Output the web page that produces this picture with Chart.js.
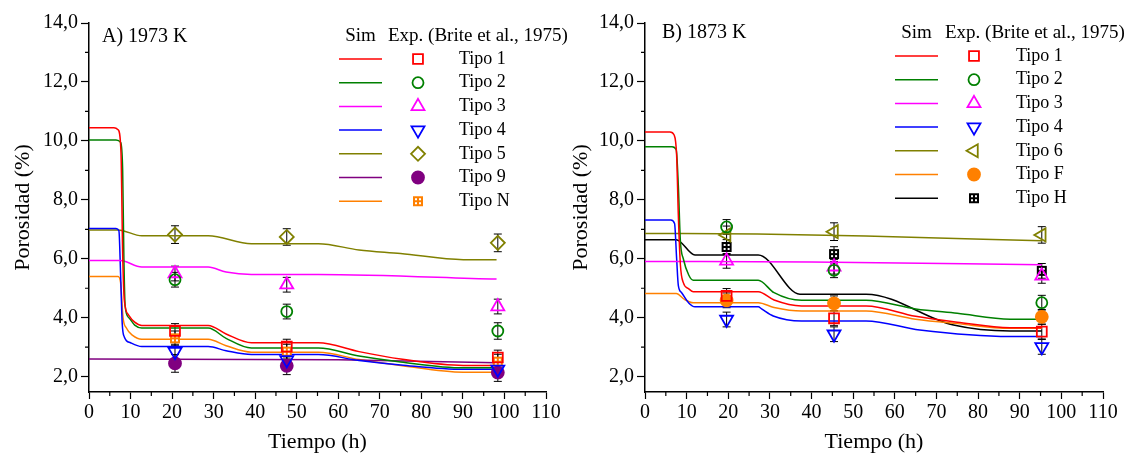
<!DOCTYPE html>
<html>
<head>
<meta charset="utf-8">
<script src="https://cdn.jsdelivr.net/npm/chart.js@4.4.1/dist/chart.umd.min.js"></script>
<style>
body { margin: 0; background: #fff; width: 1125px; height: 455px; overflow: hidden; position: relative; }
.box { position: absolute; top: 0; height: 455px; }
</style>
</head>
<body>
<div class="box" style="left:0;width:580px"><canvas id="chartA"></canvas></div>
<div class="box" style="left:560px;width:565px"><canvas id="chartB"></canvas></div>
<script>
const FONT = '"Liberation Serif", "Times New Roman", serif';

// ---- A) 1973 K : simulation curves [t, porosity]
const simA_1 = [[0,10.45],[6,10.45],[7,10.38],[7.7,9.6],[8.1,6.2],[8.5,4.6],[9.5,4.1],[11,3.85],[12.7,3.74],[28.7,3.74],[33,3.45],[39.1,3.15],[55.2,3.15],[65,2.85],[75,2.6],[90.1,2.38],[98.1,2.38]];
const simA_2 = [[0,10.03],[6.5,10.03],[7.6,9.95],[8.1,9],[8.4,6],[8.7,4.4],[9.6,4.0],[11,3.75],[12.7,3.65],[28.7,3.65],[33,3.3],[39.1,2.97],[55.2,2.97],[65,2.7],[75,2.5],[90.1,2.3],[98.1,2.3]];
const simA_3 = [[0,5.94],[7.5,5.94],[12.7,5.72],[28.7,5.72],[33,5.55],[39.1,5.47],[55.2,5.47],[98.1,5.31]];
const simA_4 = [[0,7.03],[6.5,7.03],[7.2,6.95],[7.6,5.5],[8,3.8],[8.5,3.35],[10,3.15],[12.7,3.02],[28.7,3.02],[33,2.88],[39.1,2.75],[55.2,2.75],[65,2.55],[75,2.4],[90.1,2.25],[98.1,2.25]];
const simA_5 = [[0,6.98],[7,6.98],[12.7,6.78],[28.7,6.78],[39.1,6.51],[55.2,6.51],[65,6.3],[75,6.18],[90.1,5.97],[98.1,5.97]];
const simA_9 = [[0,2.6],[60,2.57],[98.1,2.47]];
const simA_N = [[0,5.4],[7,5.4],[7.6,5.2],[8.2,4.0],[9,3.65],[10.5,3.4],[12.7,3.27],[28.7,3.27],[33,3.05],[39.1,2.83],[55.2,2.83],[65,2.58],[75,2.38],[90.1,2.15],[98.1,2.15]];

// ---- A) experimental points (Brite et al., 1975)
const expA_t = [20.7, 47.6, 98.4];
const expA_1 = [3.55, 3.02, 2.65];
const expA_2 = [5.29, 4.21, 3.55];
const expA_3 = [5.5, 5.12, 4.38];
const expA_4 = [2.85, 2.57, 2.25];
const expA_5 = [6.82, 6.74, 6.54];
const expA_9 = [2.45, 2.37, 2.14];
const expA_N = [3.3, 2.85, 2.51];
const errA_1 = [0.25, 0.25, 0.25];
const errA_2 = [0.25, 0.25, 0.28];
const errA_3 = [0.25, 0.25, 0.25];
const errA_4 = [0.25, 0.25, 0.25];
const errA_5 = [0.3, 0.28, 0.3];
const errA_9 = [0.3, 0.3, 0.3];
const errA_N = [0.25, 0.25, 0.25];

// ---- B) 1873 K : simulation curves
const simB_1 = [[0,10.3],[6,10.3],[7,10.2],[7.6,9.5],[8,7.5],[8.5,5.8],[9.2,5.19],[10.5,4.98],[11.6,4.88],[27.2,4.88],[31,4.6],[37.6,4.4],[53.1,4.4],[65,4.05],[75,3.85],[87.7,3.66],[95.3,3.66]];
const simB_2 = [[0,9.8],[6.5,9.8],[7.5,9.7],[8,8.5],[8.5,6.6],[9.2,6.0],[10.5,5.45],[11.6,5.27],[27.2,5.27],[31,4.85],[37.6,4.59],[53.1,4.59],[65,4.3],[75,4.15],[87.7,3.95],[95.3,3.95]];
const simB_3 = [[0,5.91],[40,5.89],[95.3,5.8]];
const simB_4 = [[0,7.32],[6.2,7.32],[7.1,7.2],[7.6,6],[8,5.1],[8.8,4.85],[10.5,4.5],[12,4.37],[27.2,4.37],[28,4.3],[30.8,4.06],[37.6,3.89],[53.1,3.89],[66,3.58],[87.7,3.36],[95.3,3.36]];
const simB_6 = [[0,6.86],[27,6.84],[53,6.77],[95.3,6.61]];
const simB_F = [[0,4.82],[7.5,4.82],[9.5,4.62],[11.6,4.51],[27.2,4.51],[31,4.35],[37.6,4.23],[53.1,4.23],[65,3.95],[75,3.8],[87.7,3.64],[95.3,3.64]];
const simB_H = [[0,6.65],[7.5,6.65],[12,6.13],[27.2,6.13],[37.2,4.8],[53.1,4.8],[74.1,3.75],[87.7,3.55],[95.3,3.55]];

// ---- B) experimental points
const expB_t = [19.6, 45.4, 95.3];
const expB_1 = [4.74, 3.98, 3.53];
const expB_2 = [7.08, 5.61, 4.51];
const expB_3 = [5.93, 5.73, 5.42];
const expB_4 = [3.94, 3.44, 3.01];
const expB_6 = [6.81, 6.92, 6.81];
const expB_F = [4.59, 4.49, 4.03];
const expB_H = [6.4, 6.16, 5.59];
const errB_1 = [0.25, 0.25, 0.25];
const errB_2 = [0.25, 0.25, 0.25];
const errB_3 = [0.25, 0.25, 0.25];
const errB_4 = [0.25, 0.25, 0.25];
const errB_6 = [0.3, 0.3, 0.28];
const errB_F = [0.25, 0.25, 0.25];
const errB_H = [0.25, 0.25, 0.25];

const yTicks = [2, 4, 6, 8, 10, 12, 14];
const xTicks = [0, 10, 20, 30, 40, 50, 60, 70, 80, 90, 100, 110];

// square marker with 4 white holes (Tipo N / Tipo H)
function gridSquare(color) {
    const c = document.createElement('canvas');
    c.width = 12; c.height = 12;
    const g = c.getContext('2d');
    g.fillStyle = color;
    g.fillRect(1, 1, 10, 10);
    g.fillStyle = '#fff';
    g.fillRect(3, 3, 2, 2); g.fillRect(7, 3, 2, 2);
    g.fillRect(3, 7, 2, 2); g.fillRect(7, 7, 2, 2);
    return c;
}

const seriesA = [
    { label: 'Tipo 1', color: '#ff0000', sim: simA_1, exp: expA_1, err: errA_1, style: 'rect', r: 7 },
    { label: 'Tipo 2', color: '#008000', sim: simA_2, exp: expA_2, err: errA_2, style: 'circle', r: 5.5 },
    { label: 'Tipo 3', color: '#ff00ff', sim: simA_3, exp: expA_3, err: errA_3, style: 'triangle', r: 7.5 },
    { label: 'Tipo 4', color: '#0000ff', sim: simA_4, exp: expA_4, err: errA_4, style: 'triangle', r: 7.5, rot: 180 },
    { label: 'Tipo 5', color: '#808000', sim: simA_5, exp: expA_5, err: errA_5, style: 'rectRot', r: 7 },
    { label: 'Tipo 9', color: '#800080', sim: simA_9, exp: expA_9, err: errA_9, style: 'circle', r: 6, fill: true },
    { label: 'Tipo N', color: '#ff8000', sim: simA_N, exp: expA_N, err: errA_N, style: gridSquare('#ff8000'), r: 6 }
];

const seriesB = [
    { label: 'Tipo 1', color: '#ff0000', sim: simB_1, exp: expB_1, err: errB_1, style: 'rect', r: 7 },
    { label: 'Tipo 2', color: '#008000', sim: simB_2, exp: expB_2, err: errB_2, style: 'circle', r: 5.5 },
    { label: 'Tipo 3', color: '#ff00ff', sim: simB_3, exp: expB_3, err: errB_3, style: 'triangle', r: 7.5 },
    { label: 'Tipo 4', color: '#0000ff', sim: simB_4, exp: expB_4, err: errB_4, style: 'triangle', r: 7.5, rot: 180 },
    { label: 'Tipo 6', color: '#808000', sim: simB_6, exp: expB_6, err: errB_6, style: 'triangle', r: 7.5, rot: 270 },
    { label: 'Tipo F', color: '#ff8000', sim: simB_F, exp: expB_F, err: errB_F, style: 'circle', r: 6, fill: true },
    { label: 'Tipo H', color: '#000000', sim: simB_H, exp: expB_H, err: errB_H, style: gridSquare('#000000'), r: 6 }
];

function buildDatasets(series, times) {
    let ds = [];
    series.forEach(s => {
        ds.push({
            type: 'line',
            label: s.label + ' sim',
            data: s.sim.map(p => ({ x: p[0], y: p[1] })),
            borderColor: s.color,
            borderWidth: 1.5,
            pointRadius: 0,
            cubicInterpolationMode: 'monotone',
            fill: false,
            order: 2
        });
    });
    series.forEach(s => {
        ds.push({
            type: 'scatter',
            label: s.label,
            data: times.map((t, i) => ({ x: t, y: s.exp[i] })),
            errors: s.err,
            borderColor: s.color,
            backgroundColor: s.fill ? s.color : 'rgba(0,0,0,0)',
            pointStyle: s.style,
            pointRadius: s.r,
            pointRotation: s.rot || 0,
            pointBorderWidth: 1.8,
            showLine: false,
            order: 1
        });
    });
    return ds;
}

// black error bars with caps, under the markers
const errorBars = {
    id: 'errorBars',
    beforeDatasetsDraw(chart) {
        const { ctx, scales: { x, y } } = chart;
        ctx.save();
        ctx.strokeStyle = '#000';
        ctx.lineWidth = 1;
        chart.data.datasets.forEach(ds => {
            if (!ds.errors) return;
            ds.data.forEach((p, i) => {
                const px = x.getPixelForValue(p.x);
                const top = y.getPixelForValue(p.y + ds.errors[i]);
                const bot = y.getPixelForValue(p.y - ds.errors[i]);
                ctx.beginPath();
                ctx.moveTo(px, top); ctx.lineTo(px, bot);
                ctx.moveTo(px - 4, top); ctx.lineTo(px + 4, top);
                ctx.moveTo(px - 4, bot); ctx.lineTo(px + 4, bot);
                ctx.stroke();
            });
        });
        ctx.restore();
    }
};

// minor ticks, panel label and the two-column legend
const deco = {
    id: 'deco',
    afterDraw(chart, args, opts) {
        const { ctx, scales: { x, y }, chartArea } = chart;
        ctx.save();
        ctx.strokeStyle = '#000';
        ctx.lineWidth = 1.2;
        ctx.beginPath();
        for (let i = 0; i < xTicks.length - 1; i++) {
            const px = x.getPixelForValue((xTicks[i] + xTicks[i + 1]) / 2);
            ctx.moveTo(px, chartArea.bottom); ctx.lineTo(px, chartArea.bottom + 4);
        }
        for (let i = 0; i < yTicks.length - 1; i++) {
            const py = y.getPixelForValue((yTicks[i] + yTicks[i + 1]) / 2);
            ctx.moveTo(chartArea.left - 4, py); ctx.lineTo(chartArea.left, py);
        }
        ctx.stroke();

        ctx.fillStyle = '#000';
        ctx.textBaseline = 'middle';
        ctx.font = '20px ' + FONT;
        ctx.textAlign = 'left';
        ctx.fillText(opts.title, opts.titleX, opts.titleY);

        const L = opts.legend;
        ctx.font = '19px ' + FONT;
        ctx.textAlign = 'center';
        ctx.fillText('Sim', (L.l1 + L.l2) / 2, L.hy);
        ctx.textAlign = 'left';
        ctx.fillText('Exp. (Brite et al., 1975)', L.ex, L.hy);

        ctx.font = '18px ' + FONT;
        const series = opts.series === 'A' ? seriesA : seriesB;
        series.forEach((s, i) => {
            const ry = L.y0 + i * L.dy;
            ctx.strokeStyle = s.color;
            ctx.lineWidth = 1.5;
            ctx.beginPath();
            ctx.moveTo(L.l1, ry); ctx.lineTo(L.l2, ry);
            ctx.stroke();
            ctx.fillStyle = s.fill ? s.color : 'rgba(0,0,0,0)';
            ctx.lineWidth = 1.8;
            Chart.helpers.drawPoint(ctx, { pointStyle: s.style, radius: s.r, rotation: s.rot || 0, borderWidth: 1.8 }, L.mx, ry);
            ctx.fillStyle = '#000';
            ctx.fillText(s.label, L.tx, ry);
        });
        ctx.restore();
    }
};

function makeChart(id, series, times, yWidth, padRight, titleX, plugOpts) {
    return new Chart(document.getElementById(id), {
        type: 'scatter',
        data: { datasets: buildDatasets(series, times) },
        options: {
            responsive: true,
            maintainAspectRatio: false,
            animation: false,
            layout: { padding: { top: 23, right: padRight, bottom: 0, left: 0 } },
            plugins: {
                legend: { display: false },
                tooltip: { enabled: false },
                deco: plugOpts
            },
            scales: {
                x: {
                    type: 'linear',
                    min: 0,
                    max: 110,
                    afterFit: s => { s.height = 63; },
                    border: { color: '#000', width: 1.5 },
                    grid: { drawOnChartArea: false, color: '#000', tickLength: 7, tickWidth: 1.2 },
                    ticks: { stepSize: 10, autoSkip: false, maxRotation: 0, padding: 2, color: '#000', font: { family: FONT, size: 20 } },
                    title: { display: true, text: 'Tiempo (h)', color: '#000', font: { family: FONT, size: 22 }, padding: { top: 0, bottom: 0 } }
                },
                y: {
                    min: 1.48,
                    max: 14,
                    afterFit: s => { s.width = yWidth; },
                    border: { color: '#000', width: 1.5 },
                    grid: { drawOnChartArea: false, color: '#000', tickLength: 8, tickWidth: 1.2 },
                    ticks: {
                        stepSize: 2, includeBounds: false, padding: 3, color: '#000',
                        font: { family: FONT, size: 20 },
                        callback: v => v.toFixed(1).replace('.', ',')
                    },
                    title: { display: true, text: 'Porosidad (%)', color: '#000', font: { family: FONT, size: 22 }, padding: { top: titleX, bottom: 0 } }
                }
            }
        },
        plugins: [errorBars, deco]
    });
}

makeChart('chartA', seriesA, expA_t, 89, 34, 10, {
    series: 'A', title: 'A) 1973 K', titleX: 102, titleY: 37,
    legend: { hy: 36, ex: 388, y0: 59, dy: 23.7, l1: 339, l2: 382, mx: 418, tx: 459 }
});
makeChart('chartB', seriesB, expB_t, 85, 22, 8, {
    series: 'B', title: 'B) 1873 K', titleX: 102, titleY: 33,
    legend: { hy: 33, ex: 385, y0: 56, dy: 23.7, l1: 335, l2: 378, mx: 414, tx: 456 }
});
</script>
</body>
</html>
